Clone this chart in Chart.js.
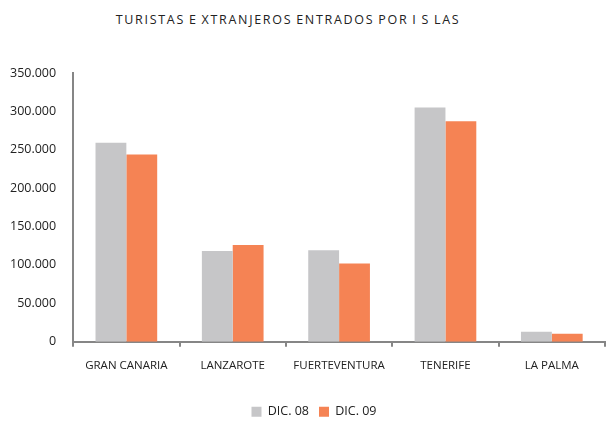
<!DOCTYPE html>
<html lang="es">
<head>
    <meta charset="UTF-8">
    <title>Turistas extranjeros entrados por islas</title>
    <script src="https://cdn.jsdelivr.net/npm/chart.js"></script>
    <style>
        html, body { margin: 0; padding: 0; background: #fff; }
        .wrap { position: relative; width: 606px; height: 421px; }
        .titulo {
            position: absolute; top: 11px; left: 0; width: 576px; text-align: center;
            font-family: "Open Sans", "Liberation Sans", sans-serif; font-size: 12.5px;
            letter-spacing: 1.7px; word-spacing: -1px; color: #222;
        }
        canvas { position: absolute; top: 0; left: 0; }
    </style>
</head>
<body>
<div class="wrap">
    <div class="titulo">TURISTAS E XTRANJEROS ENTRADOS POR I S LAS</div>
    <canvas id="grafico" width="606" height="421"></canvas>
</div>

<script>
    // datos
    const islas = ['GRAN CANARIA', 'LANZAROTE', 'FUERTEVENTURA', 'TENERIFE', 'LA PALMA'];
    const dic08 = [259000, 118000, 119000, 305000, 13000];
    const dic09 = [244000, 126000, 102000, 287000, 10500];
    const series = ['DIC. 08', 'DIC. 09'];

    const ejeColor = '#868686';
    const fuente = '"Open Sans", "Liberation Sans", sans-serif';

    // la leyenda del original esta algo desplazada (derecha y abajo)
    const moverLeyenda = {
        id: 'moverLeyenda',
        afterLayout(chart) {
            const l = chart.legend;
            l.left += 11; l.right += 11;
            l.top += 7; l.bottom += 7;
        }
    };

    new Chart(document.getElementById('grafico'), {
        type: 'bar',
        data: {
            labels: islas,
            datasets: [
                { label: series[0], data: dic08, backgroundColor: '#C6C6C8' },
                { label: series[1], data: dic09, backgroundColor: '#F58354' }
            ]
        },
        options: {
            responsive: false,
            animation: false,
            datasets: { bar: { categoryPercentage: 0.58, barPercentage: 1.0 } },
            layout: { padding: { top: 73, right: 1, left: 1, bottom: 0 } },
            plugins: {
                title: { display: false },
                tooltip: { enabled: false },
                legend: {
                    position: 'bottom',
                    labels: {
                        boxWidth: 10, boxHeight: 10, padding: 10,
                        color: '#222', font: { family: fuente, size: 12.5 }
                    }
                }
            },
            scales: {
                x: {
                    grid: { display: true, drawOnChartArea: false, drawTicks: true, tickLength: 5, color: ejeColor, lineWidth: 2 },
                    border: { display: true, color: ejeColor, width: 2 },
                    ticks: { color: '#222', font: { family: fuente, size: 11.5 }, padding: 12, maxRotation: 0 },
                    afterFit: s => { s.height += 4; }
                },
                y: {
                    min: 0, max: 350000,
                    grid: { display: false },
                    border: { display: true, color: ejeColor, width: 2 },
                    ticks: {
                        stepSize: 50000, color: '#222', font: { family: fuente, size: 12.5 }, padding: 9,
                        callback: v => v.toString().replace(/\B(?=(\d{3})+(?!\d))/g, '.')
                    }
                }
            }
        },
        plugins: [moverLeyenda]
    });
</script>
</body>
</html>
